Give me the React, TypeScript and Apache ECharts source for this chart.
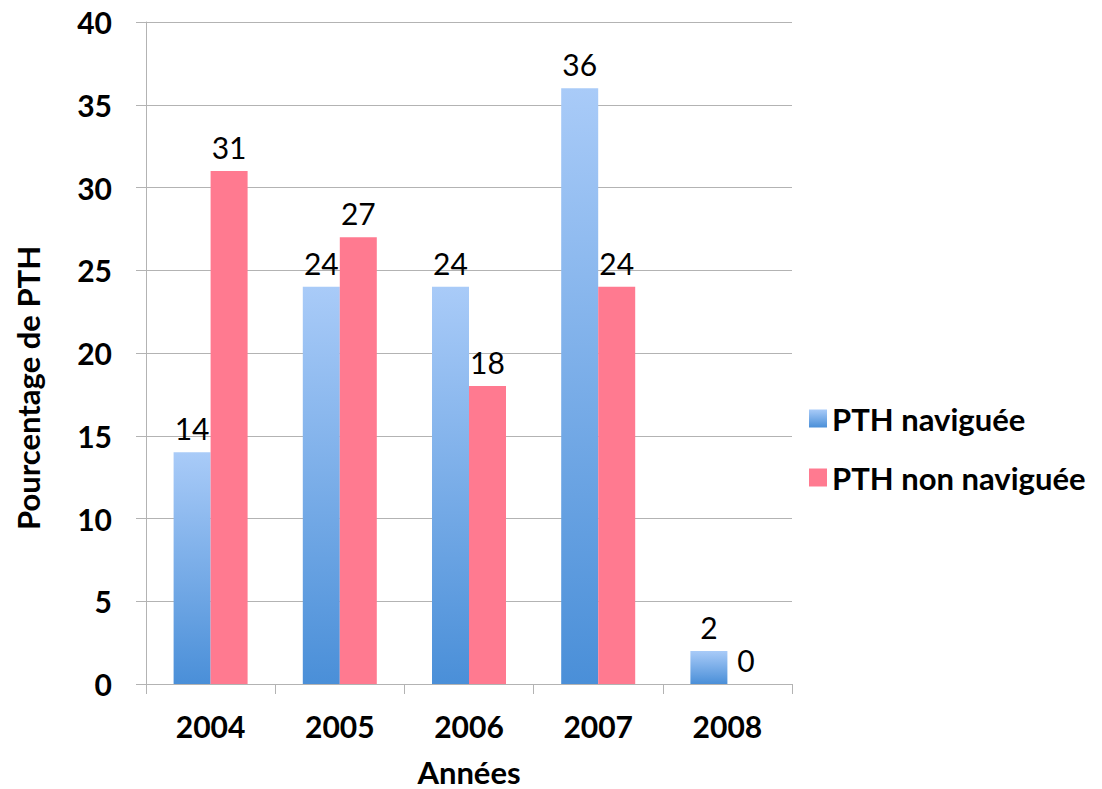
import React, { useEffect, useRef } from "react";
import * as echarts from "echarts";

const years = ["2004", "2005", "2006", "2007", "2008"];
const naviguee = [14, 24, 24, 36, 2];
const nonNaviguee = [31, 27, 18, 24, 0];
const yTicks = { min: 0, max: 40, interval: 5 };

const FONT = "Lato";

export default function App() {
  const ref = useRef<HTMLDivElement>(null);
  useEffect(() => {
    const chart = echarts.init(ref.current!, null, { renderer: "svg" });
    const blue = new echarts.graphic.LinearGradient(0, 0, 0, 1, [
      { offset: 0, color: "#a9cbf8" },
      { offset: 1, color: "#4a8fd8" },
    ]);
    const label = {
      show: true,
      position: "top",
      distance: 9,
      color: "#000",
      fontFamily: FONT,
      fontSize: 30,
    };
    chart.setOption({
      animation: false,
      backgroundColor: "#fff",
      textStyle: { fontFamily: FONT },
      grid: { left: 146, right: 310, top: 22, bottom: 105, containLabel: false, outerBoundsMode: "none" },
      legend: {
        orient: "vertical",
        left: 809,
        top: 403,
        padding: 0,
        itemWidth: 18,
        itemHeight: 18,
        itemGap: 28,
        icon: "rect",
        textStyle: { fontFamily: FONT, fontSize: 31, fontWeight: "bold", color: "#000", padding: [0, 0, 0, 0] },
        data: ["PTH naviguée", "PTH non naviguée"],
      },
      xAxis: {
        type: "category",
        data: years,
        name: "Années",
        nameLocation: "middle",
        nameGap: 72,
        nameTextStyle: { fontFamily: FONT, fontSize: 31, fontWeight: "bold", color: "#000" },
        axisLine: { show: true, lineStyle: { color: "#b3b3b3", width: 1 } },
        axisTick: { show: true, length: 10, lineStyle: { color: "#b3b3b3" } },
        axisLabel: { margin: 27, fontFamily: FONT, fontSize: 30, fontWeight: "bold", color: "#000" },
      },
      yAxis: {
        type: "value",
        min: yTicks.min,
        max: yTicks.max,
        interval: yTicks.interval,
        axisLine: { show: true, lineStyle: { color: "#b3b3b3", width: 1 } },
        axisTick: { show: true, length: 10, lineStyle: { color: "#b3b3b3" } },
        axisLabel: { margin: 34, fontFamily: FONT, fontSize: 30, fontWeight: "bold", color: "#000" },
        splitLine: { show: true, lineStyle: { color: "#b3b3b3", width: 1 } },
      },
      graphic: [
        {
          type: "text",
          x: 28,
          y: 388,
          rotation: Math.PI / 2,
          style: {
            text: "Pourcentage de PTH",
            fontFamily: FONT,
            fontSize: 31,
            fontWeight: "bold",
            fill: "#000",
            align: "center",
            verticalAlign: "middle",
          },
        },
      ],
      series: [
        {
          name: "PTH naviguée",
          type: "bar",
          data: naviguee,
          barWidth: 37,
          barGap: "0%",
          itemStyle: { color: blue },
          label,
        },
        {
          name: "PTH non naviguée",
          type: "bar",
          data: nonNaviguee,
          barWidth: 37,
          barGap: "0%",
          itemStyle: { color: "#ff7a90" },
          label,
        },
      ],
    });
    return () => chart.dispose();
  }, []);
  return <div ref={ref} style={{ width: 1102, height: 789, position: "absolute", left: 0, top: 0 }} />;
}
